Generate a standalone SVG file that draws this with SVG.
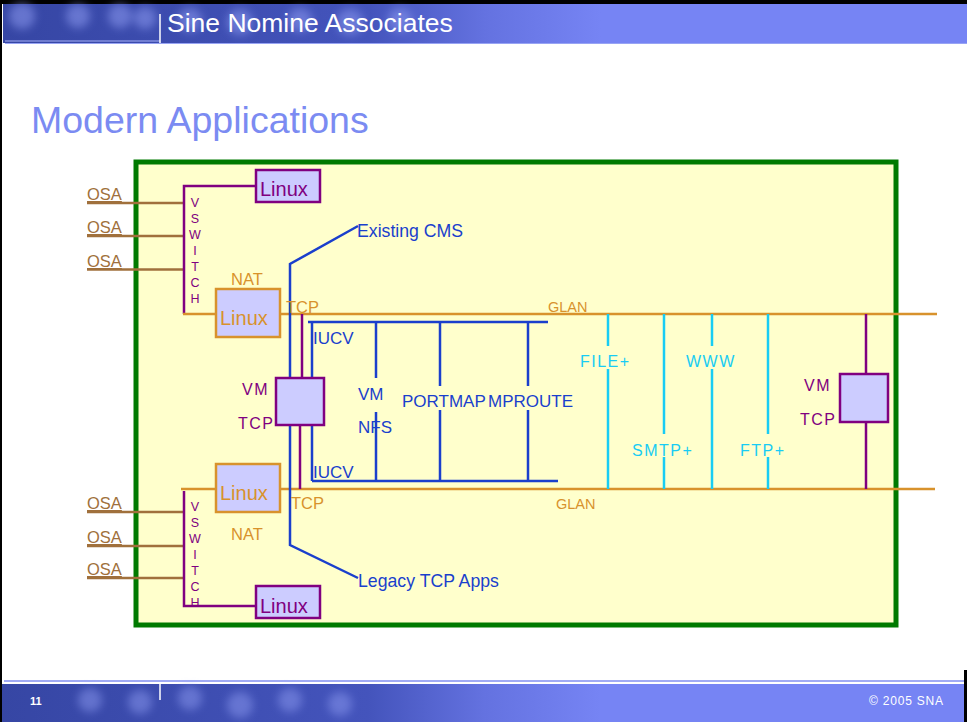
<svg xmlns="http://www.w3.org/2000/svg" width="967" height="722" viewBox="0 0 967 722">
<defs>
<style>
text{font-family:"Liberation Sans",Arial,sans-serif}
.osa{stroke:#A0703C;stroke-width:2.5;fill:none}
.osat{fill:#A0703C;font-size:16.5px;text-decoration:underline}
.org{stroke:#D8922C;stroke-width:2.5;fill:none}
.orgt{fill:#D8922C;font-size:16.5px}
.glan{fill:#D8922C;font-size:14.5px}
.pur{stroke:#800080;stroke-width:2.5;fill:none}
.purt{fill:#800080;font-size:16px;letter-spacing:1.5px}
.blu{stroke:#1A3FCC;stroke-width:2.5;fill:none}
.blut{fill:#1A3FCC;font-size:17px}
.blul{fill:#1A3FCC;font-size:17.7px}
.cya{stroke:#18CCF4;stroke-width:2.5;fill:none}
.cyat{fill:#18CCF4;font-size:16px;letter-spacing:1.5px}
.boxp{fill:#CCCCFF;stroke:#800080;stroke-width:2.5}
.boxo{fill:#CCCCFF;stroke:#D8922C;stroke-width:2.5}
.vs{fill:#800080;font-size:12.5px;text-anchor:middle}
</style>
<linearGradient id="band" x1="0" y1="0" x2="1" y2="0">
<stop offset="0" stop-color="#3646A4"/>
<stop offset="0.38" stop-color="#4454BC"/>
<stop offset="0.5" stop-color="#6472E0"/>
<stop offset="0.62" stop-color="#7684F4"/>
<stop offset="1" stop-color="#7684F4"/>
</linearGradient>
<filter id="blur" x="-50%" y="-50%" width="200%" height="200%"><feGaussianBlur stdDeviation="4"/></filter>
</defs>
<rect x="0" y="0" width="967" height="722" fill="#FFFFFF"/>
<g id="header">
<rect x="0" y="0" width="967" height="4" fill="#000"/>
<rect x="3" y="4" width="964" height="39" fill="url(#band)"/>
<g filter="url(#blur)" fill="#8C9AF0" opacity="0.55">
<circle cx="22" cy="16" r="13"/>
<circle cx="78" cy="16" r="12"/>
<circle cx="120" cy="16" r="12"/>
<circle cx="145" cy="18" r="11"/>
<circle cx="190" cy="20" r="12"/>
<circle cx="240" cy="22" r="13"/>
<circle cx="300" cy="20" r="12"/>
<circle cx="350" cy="22" r="13"/>
<circle cx="400" cy="20" r="12"/>
</g>
<line x1="5" y1="41" x2="160" y2="41" stroke="#A8B2F8" stroke-width="1"/>
<line x1="5" y1="43.5" x2="967" y2="43.5" stroke="#98A4F4" stroke-width="1"/>
<line x1="160" y1="14" x2="160" y2="43" stroke="#FFFFFF" stroke-width="1.5"/>
<text x="167" y="32" fill="#FFFFFF" font-size="26.5px">Sine Nomine Associates</text>
</g>
<rect x="0" y="0" width="2" height="722" fill="#000"/>
<text x="31" y="133" fill="#7B8BF2" font-size="37.5px">Modern Applications</text>
<rect id="frame" x="136" y="162" width="760" height="463" fill="#FFFFCC" stroke="#007A00" stroke-width="5"/>
<g id="connectors">
<line class="osa" x1="87" y1="203" x2="184" y2="203"/>
<line class="osa" x1="87" y1="236" x2="184" y2="236"/>
<line class="osa" x1="87" y1="269.5" x2="184" y2="269.5"/>
<line class="osa" x1="87" y1="512" x2="184" y2="512"/>
<line class="osa" x1="87" y1="546" x2="184" y2="546"/>
<line class="osa" x1="87" y1="578" x2="184" y2="578"/>
<polyline class="pur" points="256,186 184,186 184,314"/>
<polyline class="pur" points="184,491 184,606 256,606"/>
<line class="org" x1="183" y1="314" x2="216" y2="314"/>
<line class="org" x1="280" y1="314" x2="937" y2="314"/>
<line class="org" x1="181" y1="489" x2="216" y2="489"/>
<line class="org" x1="280" y1="489" x2="935" y2="489"/>
<polyline class="blu" points="358,226 290,264 290,545 358,578"/>
<line class="pur" x1="302" y1="314" x2="302" y2="378"/>
<line class="pur" x1="300" y1="425" x2="300" y2="489"/>
<line class="blu" x1="308" y1="322" x2="548" y2="322"/>
<line class="blu" x1="312" y1="481" x2="558" y2="481"/>
<line class="blu" x1="312" y1="322" x2="312" y2="378"/>
<line class="blu" x1="312" y1="425" x2="312" y2="481"/>
<line class="blu" x1="376" y1="322" x2="376" y2="378"/>
<line class="blu" x1="376" y1="412" x2="376" y2="481"/>
<line class="blu" x1="440" y1="322" x2="440" y2="386"/>
<line class="blu" x1="440" y1="410" x2="440" y2="481"/>
<line class="blu" x1="528" y1="322" x2="528" y2="386"/>
<line class="blu" x1="528" y1="410" x2="528" y2="481"/>
<line class="cya" x1="608" y1="314" x2="608" y2="346"/>
<line class="cya" x1="608" y1="369" x2="608" y2="489"/>
<line class="cya" x1="664" y1="314" x2="664" y2="434"/>
<line class="cya" x1="664" y1="457" x2="664" y2="489"/>
<line class="cya" x1="712" y1="314" x2="712" y2="346"/>
<line class="cya" x1="712" y1="369" x2="712" y2="489"/>
<line class="cya" x1="768" y1="314" x2="768" y2="434"/>
<line class="cya" x1="768" y1="457" x2="768" y2="489"/>
<line class="pur" x1="866" y1="314" x2="866" y2="374"/>
<line class="pur" x1="866" y1="422" x2="866" y2="489"/>
</g>
<g id="osa-labels">
<text class="osat" x="87" y="200">OSA</text>
<text class="osat" x="87" y="233">OSA</text>
<text class="osat" x="87" y="267">OSA</text>
<text class="osat" x="87" y="509">OSA</text>
<text class="osat" x="87" y="543">OSA</text>
<text class="osat" x="87" y="575">OSA</text>
</g>
<g id="vswitch-top">
<text class="vs" x="195" y="207">V</text>
<text class="vs" x="195" y="223">S</text>
<text class="vs" x="195" y="239">W</text>
<text class="vs" x="195" y="255">I</text>
<text class="vs" x="195" y="271">T</text>
<text class="vs" x="195" y="287">C</text>
<text class="vs" x="195" y="303">H</text>
</g>
<g id="vswitch-bottom">
<text class="vs" x="195" y="511">V</text>
<text class="vs" x="195" y="527">S</text>
<text class="vs" x="195" y="543">W</text>
<text class="vs" x="195" y="559">I</text>
<text class="vs" x="195" y="575">T</text>
<text class="vs" x="195" y="591">C</text>
<text class="vs" x="195" y="607">H</text>
</g>
<g id="linux-top">
<rect class="boxp" x="256" y="170" width="64" height="32"/>
<text x="260" y="196" fill="#800080" font-size="20px">Linux</text>
</g>
<g id="linux-nat-top">
<rect class="boxo" x="216" y="289" width="64" height="48"/>
<text x="220" y="325" fill="#D8922C" font-size="20px">Linux</text>
<text class="orgt" x="231" y="285">NAT</text>
<text class="orgt" x="286" y="313">TCP</text>
</g>
<g id="linux-nat-bottom">
<rect class="boxo" x="216" y="464" width="64" height="48"/>
<text x="220" y="500" fill="#D8922C" font-size="20px">Linux</text>
<text class="orgt" x="231" y="540">NAT</text>
<text class="orgt" x="291" y="509">TCP</text>
</g>
<g id="linux-bottom">
<rect class="boxp" x="256" y="586" width="64" height="32"/>
<text x="260" y="613" fill="#800080" font-size="20px">Linux</text>
</g>
<g id="glan-labels">
<text class="glan" x="548" y="312">GLAN</text>
<text class="glan" x="556" y="509">GLAN</text>
</g>
<g id="vm-tcp-left">
<rect class="boxp" x="276" y="378" width="48" height="47"/>
<text class="purt" x="242" y="395">VM</text>
<text class="purt" x="238" y="429">TCP</text>
</g>
<g id="existing-cms"><text class="blul" x="357" y="237">Existing CMS</text></g>
<g id="legacy-tcp"><text class="blul" x="358" y="587">Legacy TCP Apps</text></g>
<g id="iucv">
<text class="blut" x="313" y="344">IUCV</text>
<text class="blut" x="313" y="478">IUCV</text>
</g>
<g id="vm-nfs">
<text class="blut" x="358" y="400">VM</text>
<text class="blut" x="358" y="433">NFS</text>
</g>
<g id="portmap"><text class="blut" x="402" y="407">PORTMAP</text></g>
<g id="mproute"><text class="blut" x="488" y="407">MPROUTE</text></g>
<g id="file"><text class="cyat" x="580" y="367" letter-spacing="2px">FILE+</text></g>
<g id="www"><text class="cyat" x="686" y="367" letter-spacing="0.5">WWW</text></g>
<g id="smtp"><text class="cyat" x="632" y="456">SMTP+</text></g>
<g id="ftp"><text class="cyat" x="740" y="456">FTP+</text></g>
<g id="vm-tcp-right">
<rect class="boxp" x="840" y="374" width="48" height="48"/>
<text class="purt" x="804" y="391">VM</text>
<text class="purt" x="800" y="425">TCP</text>
</g>
<g id="footer">
<line x1="4" y1="681" x2="967" y2="681" stroke="#A0AAF4" stroke-width="2"/>
<rect x="2" y="684" width="965" height="38" fill="url(#band)"/>
<g filter="url(#blur)" fill="#8C9AF0" opacity="0.5">
<circle cx="90" cy="700" r="12"/>
<circle cx="140" cy="702" r="12"/>
<circle cx="190" cy="698" r="12"/>
<circle cx="240" cy="705" r="13"/>
<circle cx="290" cy="700" r="12"/>
<circle cx="340" cy="704" r="12"/>
</g>
<line x1="160" y1="684" x2="160" y2="700" stroke="#FFFFFF" stroke-width="1.5"/>
<text x="30" y="705" fill="#FFFFFF" font-size="11px" font-weight="bold">11</text>
<text x="869" y="705" fill="#FFFFFF" font-size="12px" textLength="74">© 2005 SNA</text>
<rect x="964" y="670" width="3" height="52" fill="#000"/>
</g>
</svg>
